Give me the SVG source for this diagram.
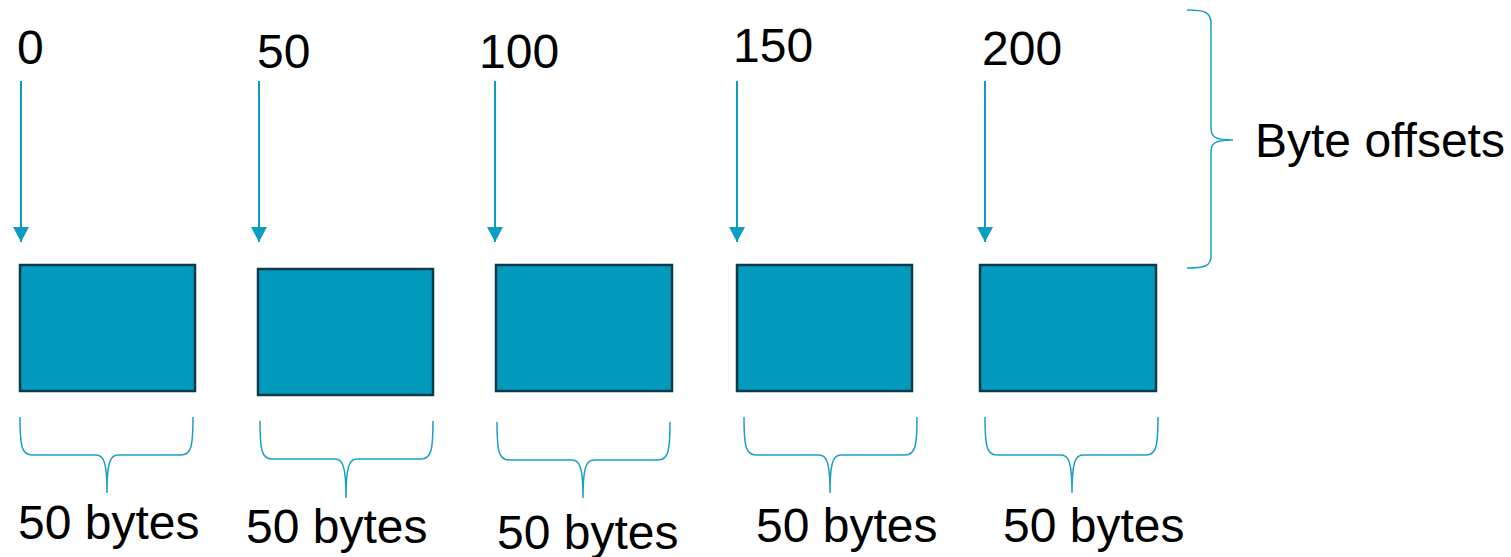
<svg xmlns="http://www.w3.org/2000/svg" width="1511" height="557" viewBox="0 0 1511 557">
  <style>
    .label { font-family: "Liberation Sans", Arial, sans-serif; font-size: 48px; fill: #000000; }
    .block { fill: #039BBD; stroke: #0B3B4B; stroke-width: 2.5; }
    .pointer { stroke: #0A9CC2; stroke-width: 2; fill: none; }
    .brace { stroke: #1AA0C6; stroke-width: 1.5; fill: none; }
  </style>
  <defs>
    <marker id="arrowhead" markerUnits="userSpaceOnUse" markerWidth="16" markerHeight="16" refX="15" refY="8" orient="auto">
      <path d="M0,0 L15,8 L0,16 Z" fill="#0A9CC2"/>
    </marker>
  </defs>
  <rect width="1511" height="557" fill="#FFFFFF"/>

  <!-- offset labels above the blocks -->
  <g id="offsets">
    <text class="label" x="17" y="64">0</text>
    <text class="label" x="257" y="68">50</text>
    <text class="label" x="479" y="68">100</text>
    <text class="label" x="733" y="62">150</text>
    <text class="label" x="982" y="65">200</text>
  </g>

  <!-- pointers from each offset down to its block -->
  <g id="connectors">
    <line class="pointer" x1="21" y1="81" x2="21" y2="242" marker-end="url(#arrowhead)"/>
    <line class="pointer" x1="259" y1="81" x2="259" y2="242" marker-end="url(#arrowhead)"/>
    <line class="pointer" x1="495" y1="81" x2="495" y2="242" marker-end="url(#arrowhead)"/>
    <line class="pointer" x1="737" y1="81" x2="737" y2="242" marker-end="url(#arrowhead)"/>
    <line class="pointer" x1="985" y1="81" x2="985" y2="242" marker-end="url(#arrowhead)"/>
  </g>

  <!-- data blocks -->
  <g id="block-0"><rect class="block" x="20" y="265" width="175" height="126"/></g>
  <g id="block-50"><rect class="block" x="258" y="269" width="175" height="126"/></g>
  <g id="block-100"><rect class="block" x="496" y="265" width="176" height="126"/></g>
  <g id="block-150"><rect class="block" x="737" y="265" width="175" height="126"/></g>
  <g id="block-200"><rect class="block" x="980" y="265" width="176" height="126"/></g>

  <!-- size braces under each block -->
  <g id="size-braces">
    <path class="brace" d="M20,417 C20,447 22,455 32,455 L96,455 C104,455 107,463 107,493 C107,463 110,455 118,455 L181,455 C191,455 193,447 193,417"/>
    <path class="brace" d="M260,421 C260,451 262,459 272,459 L335,459 C343,459 346,467 346,498 C346,467 349,459 357,459 L421,459 C431,459 433,451 433,421"/>
    <path class="brace" d="M497,422 C497,452 499,460 509,460 L572,460 C580,460 583,468 583,498 C583,468 586,460 594,460 L658,460 C668,460 670,452 670,422"/>
    <path class="brace" d="M744,417 C744,447 746,455 756,455 L819,455 C827,455 830,463 830,493 C830,463 833,455 841,455 L905,455 C915,455 917,447 917,417"/>
    <path class="brace" d="M985,417 C985,447 987,455 997,455 L1061,455 C1069,455 1072,463 1072,493 C1072,463 1075,455 1083,455 L1146,455 C1156,455 1158,447 1158,417"/>
  </g>

  <!-- size labels -->
  <g id="sizes">
    <text class="label" x="18" y="539">50 bytes</text>
    <text class="label" x="246" y="543">50 bytes</text>
    <text class="label" x="497" y="549">50 bytes</text>
    <text class="label" x="756" y="542">50 bytes</text>
    <text class="label" x="1003" y="542">50 bytes</text>
  </g>

  <!-- brace grouping the offsets -->
  <g id="offsets-brace">
    <path class="brace" d="M1187,10 C1205,10 1211,12 1211,24 L1211,128 C1211,137 1215,140 1233,140 C1215,140 1211,143 1211,152 L1211,256 C1211,266 1205,268 1187,268"/>
    <text class="label" x="1255" y="157">Byte offsets</text>
  </g>
</svg>
